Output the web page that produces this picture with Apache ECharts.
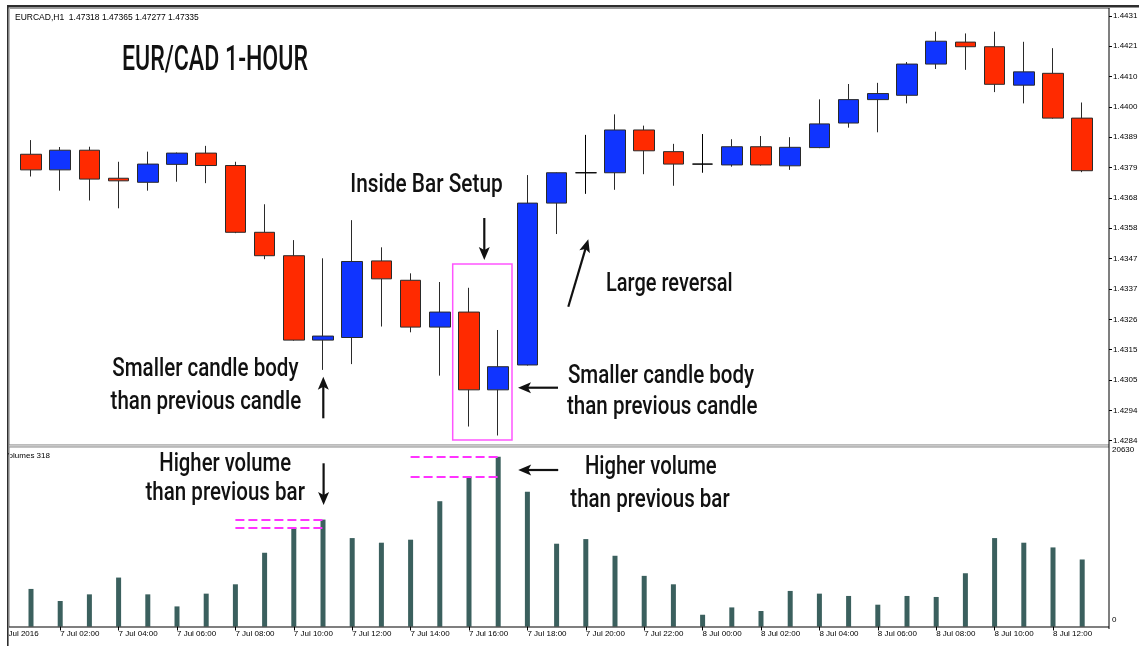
<!DOCTYPE html>
<html>
<head>
<meta charset="utf-8">
<title>EUR/CAD 1-HOUR</title>
<script src="https://cdn.jsdelivr.net/npm/echarts@6/dist/echarts.min.js"></script>
<style>
  html, body { margin: 0; padding: 0; background: #ffffff; }
  #chart { width: 1139px; height: 646px; }
</style>
</head>
<body>
<div id="chart"></div>
<script>
// Hourly bars, 7 Jul 01:00 to 8 Jul 13:00
const timeLabels = [
  '7 Jul 01:00', '7 Jul 02:00', '7 Jul 03:00', '7 Jul 04:00', '7 Jul 05:00', '7 Jul 06:00',
  '7 Jul 07:00', '7 Jul 08:00', '7 Jul 09:00', '7 Jul 10:00', '7 Jul 11:00', '7 Jul 12:00',
  '7 Jul 13:00', '7 Jul 14:00', '7 Jul 15:00', '7 Jul 16:00', '7 Jul 17:00', '7 Jul 18:00',
  '7 Jul 19:00', '7 Jul 20:00', '7 Jul 21:00', '7 Jul 22:00', '7 Jul 23:00', '8 Jul 00:00',
  '8 Jul 01:00', '8 Jul 02:00', '8 Jul 03:00', '8 Jul 04:00', '8 Jul 05:00', '8 Jul 06:00',
  '8 Jul 07:00', '8 Jul 08:00', '8 Jul 09:00', '8 Jul 10:00', '8 Jul 11:00', '8 Jul 12:00',
  '8 Jul 13:00'
];

const opens = [
  1.43831, 1.43777, 1.43845, 1.43748, 1.43734, 1.43796, 1.43835, 1.43792, 1.43561, 1.43480,
  1.43188, 1.43197, 1.43462, 1.43395, 1.43233, 1.43285, 1.43016, 1.43102, 1.43662, 1.43767,
  1.43767, 1.43915, 1.43840, 1.43797, 1.43794, 1.43857, 1.43791, 1.43854, 1.43939, 1.44020,
  1.44035, 1.44143, 1.44219, 1.44203, 1.44070, 1.44111, 1.43956
];
const highs = [
  1.43880, 1.43856, 1.43857, 1.43805, 1.43840, 1.43837, 1.43860, 1.43805, 1.43658, 1.43534,
  1.43471, 1.43603, 1.43509, 1.43419, 1.43389, 1.43369, 1.43223, 1.43759, 1.43768, 1.43898,
  1.43969, 1.43930, 1.43867, 1.43901, 1.43883, 1.43894, 1.43890, 1.44021, 1.44074, 1.44078,
  1.44150, 1.44255, 1.44249, 1.44255, 1.44220, 1.44198, 1.44010
];
const lows = [
  1.43754, 1.43705, 1.43671, 1.43644, 1.43705, 1.43736, 1.43731, 1.43558, 1.43468, 1.43186,
  1.43085, 1.43105, 1.43235, 1.43215, 1.43065, 1.42889, 1.42858, 1.43100, 1.43555, 1.43694,
  1.43708, 1.43762, 1.43722, 1.43767, 1.43788, 1.43792, 1.43777, 1.43852, 1.43923, 1.43907,
  1.44007, 1.44126, 1.44123, 1.44046, 1.44007, 1.43954, 1.43769
];
const closes = [
  1.43777, 1.43845, 1.43745, 1.43739, 1.43797, 1.43835, 1.43792, 1.43561, 1.43480, 1.43188,
  1.43202, 1.43460, 1.43400, 1.43233, 1.43285, 1.43016, 1.43096, 1.43662, 1.43767, 1.43767,
  1.43915, 1.43843, 1.43797, 1.43797, 1.43857, 1.43794, 1.43855, 1.43936, 1.44020, 1.44041,
  1.44143, 1.44222, 1.44203, 1.44073, 1.44116, 1.43956, 1.43774
];
const volumes = [
  4565, 3101, 3906, 5945, 3906, 2441, 3992, 5127, 8960, 12012,
  12988, 10742, 10181, 10547, 15222, 18188, 20630, 16357, 10058, 10620,
  8594, 6152, 5127, 1428, 2319, 1880, 4321, 3992, 3711, 2649,
  3711, 3589, 6470, 10742, 10181, 9607, 8142
];

// Price scale ticks and the labels printed next to them
const priceTicks = [
  1.42840, 1.42945, 1.43050, 1.43155, 1.43260, 1.43365, 1.43470, 1.43575,
  1.43680, 1.43785, 1.43890, 1.43995, 1.44100, 1.44205, 1.44310
];
const priceTickLabels = [
  '1.4284', '1.4294', '1.4305', '1.4315', '1.4326', '1.4337', '1.4347', '1.4358',
  '1.4368', '1.4379', '1.4389', '1.4400', '1.4410', '1.4421', '1.4431'
];
const volumeTicks = [0, 20630];
const firstTimeLabel = '7 Jul 2016';
const headerText = 'EURCAD,H1  1.47318 1.47365 1.47277 1.47335';
const volumeHeader = 'Volumes 318';

// Layout
const PLOT_LEFT = 16.4;
const PLOT_RIGHT = 42.2;
const AXIS_OFFSET = 12.2;
const PRICE_MIN = 1.428286;
const PRICE_MAX = 1.443335;
const AXIS_FONT = 'Liberation Sans, Arial, sans-serif';

const candleData = opens.map((o, i) => [o, closes[i], lows[i], highs[i]]);
const everyOther = (idx) => idx % 2 === 1;

function nearestLabel(v) {
  let best = 0;
  for (let i = 1; i < priceTicks.length; i++) {
    if (Math.abs(priceTicks[i] - v) < Math.abs(priceTicks[best] - v)) best = i;
  }
  return priceTickLabels[best];
}

// Arrow made of a shaft and a notched head, from tail (x1,y1) to tip (x2,y2)
function arrow(x1, y1, x2, y2) {
  const dx = x2 - x1, dy = y2 - y1, len = Math.hypot(dx, dy);
  const ux = dx / len, uy = dy / len;
  const hl = 13, hw = 5.5;
  const bx = x2 - ux * hl, by = y2 - uy * hl;
  return [
    { type: 'line', z: 50, shape: { x1: x1, y1: y1, x2: bx + ux * 4, y2: by + uy * 4 },
      style: { stroke: '#111', lineWidth: 2.2 } },
    { type: 'polygon', z: 50,
      shape: { points: [[x2, y2], [bx - uy * hw, by + ux * hw], [bx + ux * 3, by + uy * 3], [bx + uy * hw, by - ux * hw]] },
      style: { fill: '#111' } }
  ];
}

function note(text, x, y, size, sx, weight) {
  return {
    type: 'text', z: 50, x: x, y: y, scaleX: sx, scaleY: 1, originX: 0, originY: 0,
    style: {
      text: text, fill: '#111',
      font: (weight || 500) + ' ' + size + 'px Roboto, sans-serif',
      textAlign: 'center', textVerticalAlign: 'middle'
    }
  };
}

function bar(x, y, w, h, fill, z) {
  return { type: 'rect', z: z || 80, shape: { x: x, y: y, width: w, height: h }, style: { fill: fill } };
}

const graphics = [
  // small header texts
  { type: 'text', z: 40, x: 15, y: 17.5,
    style: { text: headerText, fill: '#000', font: '8.5px ' + AXIS_FONT, textVerticalAlign: 'middle' } },
  { type: 'text', z: 40, x: 3.7, y: 455.5,
    style: { text: volumeHeader, fill: '#000', font: '8px ' + AXIS_FONT, textVerticalAlign: 'middle' } },
  { type: 'text', z: 40, x: 1.8, y: 630,
    style: { text: firstTimeLabel, fill: '#000', font: '8px ' + AXIS_FONT, textVerticalAlign: 'top' } },

  // titles and notes
  note('EUR/CAD 1-HOUR', 215, 61.7, 35, 0.66, 500),
  note('Inside Bar Setup', 426.5, 185, 26, 0.8),
  note('Large reversal', 669.3, 284.7, 26, 0.77),
  note('Smaller candle body', 205.4, 369.3, 26, 0.79),
  note('than previous candle', 205.9, 402.5, 26, 0.79),
  note('Smaller candle body', 661, 376.3, 26, 0.79),
  note('than previous candle', 662.3, 407, 26, 0.79),
  note('Higher volume', 225.2, 464, 26, 0.78),
  note('than previous bar', 225.2, 493.3, 26, 0.79),
  note('Higher volume', 650.8, 467.5, 26, 0.78),
  note('than previous bar', 650, 500, 26, 0.79),

  ...arrow(484.3, 218, 484.3, 260),
  ...arrow(323.3, 418.3, 323.3, 376.7),
  ...arrow(558, 387.7, 518, 387.7),
  ...arrow(568.3, 306.7, 588.3, 239.3),
  ...arrow(323.6, 463.3, 323.6, 505),
  ...arrow(558.2, 470, 518.2, 470),

  // inside bar box
  { type: 'rect', z: 45, shape: { x: 452.7, y: 264, width: 59.3, height: 176 },
    style: { fill: 'rgba(0,0,0,0)', stroke: '#ff55ff', lineWidth: 1.5 } },

  // window frame
  bar(0, 0, 7, 646, '#ffffff', 90),
  bar(7, 5, 1132, 2.5, '#2e2e2e'),
  bar(8.5, 8, 1101, 1, '#9a9a9a'),
  bar(7, 5, 1.6, 641, '#2e2e2e'),
  bar(9, 8, 1, 619, '#b8b8b8'),
  bar(9, 444.5, 1100, 1, '#7a7a7a'),
  bar(9, 445.5, 1100, 1, '#d4d4d4'),
  bar(9, 446.5, 1100, 1, '#8a8a8a'),
  bar(1108.5, 8, 1, 621, '#000000'),
  bar(9, 626.5, 1100, 1, '#000000')
];

const option = {
  backgroundColor: '#ffffff',
  animation: false,
  grid: [
    { left: PLOT_LEFT, right: PLOT_RIGHT, top: 9, height: 435, outerBoundsMode: 'none', containLabel: false },
    { left: PLOT_LEFT, right: PLOT_RIGHT, top: 456.7, height: 169.8, outerBoundsMode: 'none', containLabel: false }
  ],
  xAxis: [
    { type: 'category', gridIndex: 0, data: timeLabels, boundaryGap: true,
      axisLine: { show: false }, axisTick: { show: false }, axisLabel: { show: false }, splitLine: { show: false } },
    { type: 'category', gridIndex: 1, data: timeLabels, boundaryGap: true,
      axisLine: { show: false },
      axisTick: { show: true, interval: everyOther, alignWithLabel: true, length: 4,
                  lineStyle: { color: '#000', width: 1 } },
      axisLabel: { show: true, interval: everyOther, align: 'left', margin: 3.5, hideOverlap: false,
                   color: '#000', fontSize: 8, fontFamily: AXIS_FONT },
      splitLine: { show: false } }
  ],
  yAxis: [
    { type: 'value', gridIndex: 0, position: 'right', offset: AXIS_OFFSET,
      min: PRICE_MIN, max: PRICE_MAX,
      axisLine: { show: false }, splitLine: { show: false },
      axisTick: { show: true, inside: false, length: 3, customValues: priceTicks,
                  lineStyle: { color: '#000', width: 1 } },
      axisLabel: { show: true, customValues: priceTicks, margin: 4, hideOverlap: false,
                   formatter: (v) => nearestLabel(v),
                   color: '#000', fontSize: 8, fontFamily: AXIS_FONT } },
    { type: 'value', gridIndex: 1, position: 'right', offset: AXIS_OFFSET,
      min: 0, max: volumeTicks[1],
      axisLine: { show: false }, splitLine: { show: false }, axisTick: { show: false },
      axisLabel: { show: true, customValues: volumeTicks, margin: 3, hideOverlap: false,
                   verticalAlign: 'bottom', lineHeight: 14,
                   formatter: (v) => String(v),
                   color: '#000', fontSize: 8, fontFamily: AXIS_FONT } }
  ],
  series: [
    {
      name: 'EURCAD,H1', type: 'candlestick', xAxisIndex: 0, yAxisIndex: 0,
      data: candleData, barWidth: 21,
      itemStyle: {
        color: '#1034ff', color0: '#ff2a00',
        borderColor: '#2a2a2a', borderColor0: '#2a2a2a', borderColorDoji: '#000000',
        borderWidth: 1
      },
      emphasis: { disabled: true }
    },
    {
      name: 'Volumes', type: 'bar', xAxisIndex: 1, yAxisIndex: 1,
      data: volumes, barWidth: 5,
      itemStyle: { color: '#3b605e' },
      emphasis: { disabled: true },
      markLine: {
        silent: true, symbol: ['none', 'none'], label: { show: false },
        lineStyle: { color: '#ff33ff', width: 2, type: [9, 4] },
        data: [
          [{ coord: [7, volumes[10]] }, { coord: [10, volumes[10]] }],
          [{ coord: [7, volumes[9]] }, { coord: [10, volumes[9]] }],
          [{ coord: [13, volumes[16]] }, { coord: [16, volumes[16]] }],
          [{ coord: [13, volumes[15]] }, { coord: [16, volumes[15]] }]
        ]
      }
    }
  ],
  graphic: { elements: graphics }
};

const chart = echarts.init(document.getElementById('chart'), null, { renderer: 'canvas' });
chart.setOption(option);
</script>
</body>
</html>
